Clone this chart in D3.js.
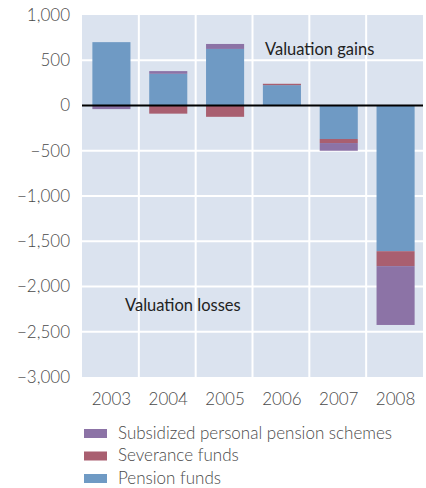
<!DOCTYPE html>
<html>
<head>
<meta charset="utf-8">
<script src="https://cdn.jsdelivr.net/npm/d3@7"></script>
<style>
  body { margin: 0; background: #fff; }
  text { font-family: Lato, "Open Sans", sans-serif; }
</style>
</head>
<body>
<script>
// data (EUR m)
var years = ["2003", "2004", "2005", "2006", "2007", "2008"]
var pension = [700, 350, 625, 225, -370, -1610]
var severance = [0, -90, -125, 15, -45, -165]
var subsidized = [-40, 30, 55, 0, -85, -650]
var seriesNames = ["Pension funds", "Severance funds", "Subsidized personal pension schemes"]
var yTicks = [1000, 500, 0, -500, -1000, -1500, -2000, -2500, -3000]

var colors = ["#6f9ac4", "#a95f70", "#8c73a6"]

var W = 426, H = 488
var margin = {top: 15, left: 82, right: 3, bottom: 111}

var svg = d3.select("body").append("svg")
  .attr("width", W)
  .attr("height", H)

var x = d3.scaleBand()
  .domain(years)
  .range([margin.left, W - margin.right])
  .paddingInner(0)
  .paddingOuter(0)

var y = d3.scaleLinear()
  .domain([-3000, 1000])
  .range([H - margin.bottom, margin.top])

// background
svg.append("rect")
  .attr("x", margin.left)
  .attr("y", margin.top)
  .attr("width", W - margin.right - margin.left)
  .attr("height", y(-3000) - y(1000))
  .attr("fill", "#dbe3ef")

// grid
svg.selectAll(".hgrid")
  .data(yTicks.filter(function(d){ return d != 0 && d != 1000 && d != -3000 }))
  .enter().append("line")
  .attr("x1", margin.left)
  .attr("x2", W - margin.right)
  .attr("y1", function(d){ return y(d) })
  .attr("y2", function(d){ return y(d) })
  .attr("stroke", "#fff")
  .attr("stroke-width", 2)

svg.selectAll(".vgrid")
  .data(years.slice(1))
  .enter().append("line")
  .attr("x1", function(d){ return x(d) })
  .attr("x2", function(d){ return x(d) })
  .attr("y1", y(1000))
  .attr("y2", y(-3000))
  .attr("stroke", "#fff")
  .attr("stroke-width", 2)

// stacked bars
var table = years.map(function(yr, i){
  return {year: yr, p: pension[i], s: severance[i], u: subsidized[i]}
})
var stack = d3.stack()
  .keys(["p", "s", "u"])
  .offset(d3.stackOffsetDiverging)
var layers = stack(table)

var barW = x.bandwidth() * 0.67
layers.forEach(function(layer, k){
  svg.append("g")
    .selectAll("rect")
    .data(layer)
    .enter().append("rect")
    .attr("x", function(d){ return x(d.data.year) + (x.bandwidth() - barW) / 2 + 1 })
    .attr("width", barW)
    .attr("y", function(d){ return y(Math.max(d[0], d[1])) })
    .attr("height", function(d){ return Math.abs(y(d[0]) - y(d[1])) })
    .attr("fill", colors[k])
})

// zero line
svg.append("line")
  .attr("x1", margin.left)
  .attr("x2", W - margin.right)
  .attr("y1", y(0))
  .attr("y2", y(0))
  .attr("stroke", "#000")
  .attr("stroke-width", 2)

// y axis labels
var fmt = function(d){ return d3.format(",")(d).replace("-", "\u2212") }
svg.selectAll(".ylab")
  .data(yTicks)
  .enter().append("text")
  .attr("x", 70)
  .attr("y", function(d){ return y(d) })
  .attr("dy", "0.35em")
  .attr("text-anchor", "end")
  .attr("fill", "#4a4a4a")
  .style("font-size", "17px")
  .style("font-weight", 300)
  .text(fmt)

// x axis labels
svg.selectAll(".xlab")
  .data(years)
  .enter().append("text")
  .attr("x", function(d){ return x(d) + x.bandwidth() / 2 + 1 })
  .attr("y", 405)
  .attr("text-anchor", "middle")
  .attr("fill", "#4a4a4a")
  .style("font-size", "17px")
  .style("font-weight", 300)
  .text(function(d){ return d })

// annotations
svg.append("text")
  .attr("x", 265)
  .attr("y", 55)
  .attr("fill", "#222")
  .style("font-size", "16.5px")
  .text("Valuation gains")

svg.append("text")
  .attr("x", 125)
  .attr("y", 311)
  .attr("fill", "#222")
  .style("font-size", "16.5px")
  .text("Valuation losses")

// legend
var legendOrder = [2, 1, 0]
legendOrder.forEach(function(k, i){
  var ly = 433 + i * 22.5
  svg.append("rect")
    .attr("x", 84)
    .attr("y", ly - 4)
    .attr("width", 23)
    .attr("height", 9)
    .attr("fill", colors[k])
  svg.append("text")
    .attr("x", 118)
    .attr("y", ly)
    .attr("dy", "0.35em")
    .attr("fill", "#4a4a4a")
    .style("font-size", "17px")
    .style("font-weight", 300)
    .text(seriesNames[k])
})
</script>
</body>
</html>
